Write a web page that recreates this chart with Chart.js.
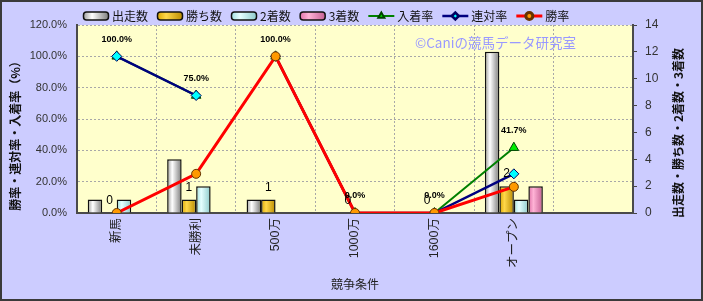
<!DOCTYPE html>
<html>
<head>
<meta charset="utf-8">
<script src="https://cdn.jsdelivr.net/npm/chart.js@4"></script>
<style>
html,body{margin:0;padding:0;background:#ccccff;}
canvas{display:block;}
</style>
</head>
<body>
<canvas id="c" width="703" height="301"></canvas>
<script>
// ---- data ----
const categories = ['新馬', '未勝利', '500万', '1000万', '1600万', 'オープン', ''];
const starts  = [1, 4, 1, 0, 0, 12];
const wins    = [0, 1, 1, 0, 0, 2];
const seconds = [1, 2, 0, 0, 0, 1];
const thirds  = [0, 0, 0, 0, 0, 2];
const placeRate    = [100, 75, 100, 0, 0, 41.7];
const quinellaRate = [100, 75, 100, 0, 0, 25];
const winRate      = [0, 25, 100, 0, 0, 16.7];
const seriesNames = ['出走数', '勝ち数', '2着数', '3着数', '入着率', '連対率', '勝率'];
const leftTitle = '勝率・連対率・入着率（%）';
const rightTitle = '出走数・勝ち数・2着数・3着数';
const xTitle = '競争条件';
const watermark = '©Caniの競馬データ研究室';

const CAT_PCT = 0.73;
const JP = "'Liberation Sans','Noto Sans CJK JP',sans-serif";

const barStyles = [
  {stops: ['#9a9a9a', '#ffffff', '#7a7a7a'], base: '#e0e0e0'},
  {stops: ['#d9a400', '#ffd84a', '#b88a00'], base: '#ffcc00'},
  {stops: ['#9fdede', '#e6ffff', '#8ccaca'], base: '#ccffff'},
  {stops: ['#dd6fa6', '#ffb3d6', '#c45e92'], base: '#ff99cc'}
];

function gradFor(ctx, left, w, st) {
  const g = ctx.createLinearGradient(left, 0, left + w, 0);
  g.addColorStop(0, st.stops[0]);
  g.addColorStop(0.35, st.stops[1]);
  g.addColorStop(1, st.stops[2]);
  return g;
}

function barBg(idx) {
  return function (c) {
    const chart = c.chart;
    const xs = chart.scales && chart.scales.x;
    if (!xs || c.type !== 'data' || !xs.width) return barStyles[idx].base;
    const cw = xs.width / chart.data.labels.length;
    const gw = cw * CAT_PCT;
    const bw = gw / 4;
    const center = xs.getPixelForValue(c.dataIndex);
    const left = center - gw / 2 + idx * bw;
    return gradFor(chart.ctx, left, bw, barStyles[idx]);
  };
}

function barDs(label, data, idx) {
  return {
    type: 'bar', label, data, yAxisID: 'y1', order: 3 + idx,
    backgroundColor: barBg(idx), borderColor: '#111', borderWidth: 1.5,
    barPercentage: 1, categoryPercentage: CAT_PCT
  };
}

const hideSeg = { borderColor: c => (c.p0DataIndex === 1 ? 'rgba(0,0,0,0)' : undefined) };

const datasets = [
  barDs(seriesNames[0], starts, 0),
  barDs(seriesNames[1], wins, 1),
  barDs(seriesNames[2], seconds, 2),
  barDs(seriesNames[3], thirds, 3),
  { type: 'line', label: seriesNames[4], data: placeRate, yAxisID: 'y', order: 2,
    borderColor: '#008000', borderWidth: 2, pointStyle: 'triangle', pointRadius: 5.5,
    pointBackgroundColor: '#00ee00', pointBorderColor: '#004400', pointBorderWidth: 1,
    segment: hideSeg, tension: 0 },
  { type: 'line', label: seriesNames[5], data: quinellaRate, yAxisID: 'y', order: 1,
    borderColor: '#000080', borderWidth: 2.5, pointStyle: 'rectRot', pointRadius: 5,
    pointBackgroundColor: '#00ffff', pointBorderColor: '#000060', pointBorderWidth: 1,
    segment: hideSeg, tension: 0 },
  { type: 'line', label: seriesNames[6], data: winRate, yAxisID: 'y', order: 0,
    borderColor: '#ff0000', borderWidth: 3, pointStyle: 'circle', pointRadius: 4.5,
    pointBackgroundColor: '#ff9900', pointBorderColor: '#663300', pointBorderWidth: 1,
    tension: 0 }
];

const decor = {
  id: 'decor',
  beforeDraw(chart) {
    const {ctx, chartArea: a} = chart;
    ctx.save();
    ctx.fillStyle = '#ccccff';
    ctx.fillRect(0, 0, chart.width, chart.height);
    ctx.fillStyle = '#ffffcc';
    ctx.fillRect(a.left, a.top, a.right - a.left, a.bottom - a.top);
    ctx.restore();
  },
  beforeDatasetsDraw(chart) {
    const ctx = chart.ctx;
    ctx.save();
    ctx.font = "13.5px 'Noto Sans CJK JP',sans-serif";
    ctx.fillStyle = '#9999ff';
    ctx.textAlign = 'left';
    ctx.textBaseline = 'middle';
    ctx.fillText(watermark, 415, 43);
    ctx.restore();
  },
  afterDatasetsDraw(chart) {
    const ctx = chart.ctx;
    ctx.save();
    ctx.textAlign = 'center';
    ctx.textBaseline = 'middle';
    // rate labels (入着率)
    const m4 = chart.getDatasetMeta(4);
    ctx.font = "bold 9px 'Liberation Sans',sans-serif";
    ctx.fillStyle = '#000';
    m4.data.forEach((el, i) => {
      const v = placeRate[i];
      if (v == null) return;
      ctx.fillText(v.toFixed(1) + '%', el.x, el.y - 17);
    });
    // win count labels (勝ち数)
    const m1 = chart.getDatasetMeta(1);
    ctx.font = "12px 'Liberation Sans',sans-serif";
    m1.data.forEach((el, i) => {
      const v = wins[i];
      if (v == null) return;
      ctx.fillText(String(v), el.x, el.y - 12);
    });
    ctx.restore();
  },
  afterDraw(chart) {
    const ctx = chart.ctx;
    ctx.save();
    // axis titles (both read bottom-to-top)
    ctx.font = "bold 12px 'Noto Sans CJK JP',sans-serif";
    ctx.fillStyle = '#111';
    ctx.textAlign = 'center';
    ctx.textBaseline = 'middle';
    [[15, 133, leftTitle], [678, 133, rightTitle]].forEach(([x, y, t]) => {
      ctx.save();
      ctx.translate(x, y);
      ctx.rotate(-Math.PI / 2);
      ctx.fillText(t, 0, 0);
      ctx.restore();
    });
    // legend
    ctx.font = "12px 'Noto Sans CJK JP',sans-serif";
    ctx.textAlign = 'left';
    let x = 83;
    const y = 16;
    chart.data.datasets.forEach((ds, i) => {
      if (i < 4) {
        const st = barStyles[i];
        ctx.save();
        ctx.beginPath();
        ctx.roundRect(x + 0.5, y - 4, 25, 8, 3);
        ctx.fillStyle = gradFor(ctx, x, 26, st);
        ctx.fill();
        ctx.lineWidth = 1.5;
        ctx.strokeStyle = '#111';
        ctx.stroke();
        ctx.restore();
      } else {
        ctx.save();
        ctx.strokeStyle = ds.borderColor;
        ctx.lineWidth = ds.borderWidth;
        ctx.beginPath();
        ctx.moveTo(x, y);
        ctx.lineTo(x + 26, y);
        ctx.stroke();
        ctx.fillStyle = ds.pointBackgroundColor;
        ctx.strokeStyle = ds.pointBorderColor;
        Chart.helpers.drawPoint(ctx, {pointStyle: ds.pointStyle, radius: 3.5, borderWidth: 1, rotation: 0}, x + 13, y);
        ctx.restore();
      }
      ctx.fillStyle = '#111';
      ctx.fillText(ds.label, x + 29, y);
      x += 29 + ctx.measureText(ds.label).width + 9;
    });
    // outer border
    ctx.strokeStyle = '#3a3a3a';
    ctx.lineWidth = 2;
    ctx.strokeRect(1, 1, chart.width - 2, chart.height - 2);
    ctx.restore();
  }
};

new Chart(document.getElementById('c'), {
  data: { labels: categories, datasets },
  options: {
    responsive: false,
    animation: false,
    devicePixelRatio: 1,
    layout: { padding: { top: 25, left: 0, right: 0, bottom: 0 } },
    plugins: { legend: { display: false }, tooltip: { enabled: false } },
    scales: {
      x: {
        type: 'category',
        offset: true,
        grid: { offset: true, color: '#a8a8a8', drawTicks: false },
        border: { display: true, color: '#4a4a4a', width: 2, dash: [2, 2] },
        ticks: { color: '#222', font: { size: 12.5, family: JP }, minRotation: 90, maxRotation: 90, padding: 5, autoSkip: false },
        title: { display: true, text: xTitle, color: '#222', font: { size: 12, family: "'Noto Sans CJK JP',sans-serif" }, padding: { top: 2, bottom: 9 } },
        afterFit(s) { s.height = 88; }
      },
      y: {
        position: 'left',
        min: 0, max: 120,
        ticks: { stepSize: 20, color: '#333', font: { size: 11, family: "'Liberation Sans',sans-serif" }, padding: 10,
                 callback: v => v.toFixed(1) + '%' },
        grid: { color: '#a8a8a8', drawTicks: false },
        border: { display: true, color: '#4a4a4a', width: 2, dash: [2, 2] },
        afterFit(s) { s.width = 77; }
      },
      y1: {
        position: 'right',
        min: 0, max: 14,
        ticks: { stepSize: 2, color: '#333', font: { size: 12, family: "'Liberation Sans',sans-serif" }, padding: 8 },
        grid: { drawOnChartArea: false, drawTicks: true, tickLength: 4, tickColor: '#444' },
        border: { display: true, color: '#4a4a4a', width: 2 },
        afterFit(s) { s.width = 70; }
      }
    }
  },
  plugins: [decor]
});
</script>
</body>
</html>
